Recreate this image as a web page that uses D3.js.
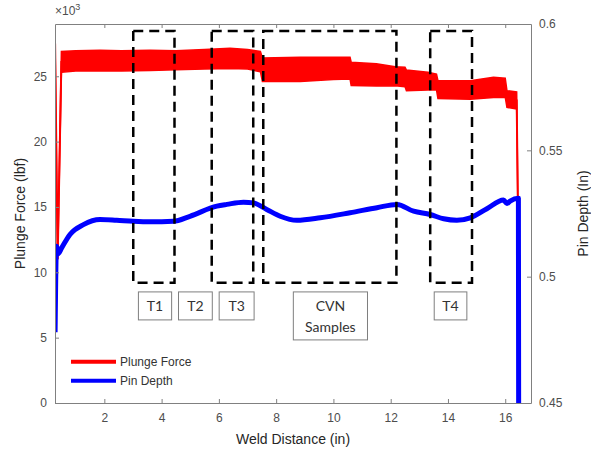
<!DOCTYPE html>
<html>
<head>
<meta charset="utf-8">
<title>Plunge force and pin depth</title>
<script src="https://cdn.jsdelivr.net/npm/d3@7"></script>
<style>
    body { margin: 0; background: #fff; }
    svg text { font-family: "Liberation Sans", Arial, sans-serif; }
    .tick text { fill: #4d4d4d; font-size: 12px; }
    .tick line { stroke: #808080; }
    .domain { stroke: #808080; }
    .title { fill: #262626; font-size: 14px; }
    .lbl { font-family: Lato, "Open Sans", sans-serif; font-size: 14px; fill: #333; }
</style>
</head>
<body>
<div id="chart"></div>
<script>
// weld distance (in) and plunge force band (x10^3 lbf)
var forceX  = [0.28, 0.37, 0.50, 1.00, 1.85, 2.60, 3.60, 4.50, 5.50, 6.39, 7.00, 7.45, 7.52, 8.84, 10.00, 10.58, 10.62, 11.50, 12.16, 12.50, 12.55, 13.30, 13.60, 13.65, 14.78, 15.59, 16.00, 16.06, 16.40, 16.44];
var forceHi = [27.5, 11.0, 26.9, 26.95, 27.0, 26.95, 27.0, 26.95, 27.05, 27.15, 27.05, 26.9, 26.4, 26.45, 26.45, 26.45, 26.07, 25.95, 25.73, 25.7, 25.48, 25.3, 25.17, 24.66, 24.66, 24.92, 24.85, 23.9, 23.8, 15.5];
var forceLo = [27.5, 11.0, 25.3, 25.4, 25.4, 25.4, 25.45, 25.5, 25.55, 25.6, 25.55, 25.35, 24.6, 24.6, 24.75, 24.8, 24.3, 24.25, 24.27, 24.2, 23.9, 23.95, 23.95, 23.3, 23.25, 23.38, 23.4, 22.62, 22.5, 15.5];

// pin depth (in)
var depthX   = [0.28, 0.33, 0.38, 0.51, 0.80, 1.27, 1.85, 2.43, 3.01, 3.60, 4.41, 4.99, 5.93, 6.28, 6.86, 7.21, 7.67, 8.14, 8.72, 9.54, 10.58, 11.52, 12.22, 12.80, 13.38, 13.85, 14.31, 14.78, 15.36, 15.94, 16.06, 16.17, 16.46, 16.47];
var depthVal = [0.478, 0.512, 0.509, 0.5114, 0.5167, 0.5206, 0.5226, 0.5223, 0.5219, 0.5217, 0.5219, 0.5239, 0.5279, 0.5286, 0.5295, 0.5292, 0.5266, 0.5239, 0.5223, 0.5233, 0.5253, 0.5273, 0.5286, 0.5259, 0.5246, 0.5229, 0.5223, 0.5233, 0.5269, 0.5303, 0.5290, 0.5299, 0.5310, 0.44];

var xTicks = [2, 4, 6, 8, 10, 12, 14, 16];
var forceTicks = [0, 5, 10, 15, 20, 25];
var depthTicks = [0.45, 0.5, 0.55, 0.6];

// dashed sample regions (in) and their labels
var regionStart = [3.01, 5.75, 7.55, 13.38];
var regionEnd   = [4.45, 7.20, 12.20, 14.84];
var labelNames  = [["T1"], ["T2"], ["T3"], ["CVN", "Samples"], ["T4"]];
var labelStart  = [3.19, 4.59, 6.01, 8.60, 13.52];
var labelEnd    = [4.35, 5.77, 7.23, 11.19, 14.66];

var W = 591, H = 451,
    margin = { top: 24, right: 60, bottom: 48, left: 55 },
    w = W - margin.left - margin.right,
    h = H - margin.top - margin.bottom;

var svg = d3.select('#chart').append('svg')
    .attr('width', W)
    .attr('height', H);

var g = svg.append('g')
    .attr('transform', 'translate(' + margin.left + ',' + margin.top + ')');

var x = d3.scaleLinear().domain([0.277, 16.9]).range([0, w]);
var yL = d3.scaleLinear().domain([0, 29]).range([h, 0]);
var yR = d3.scaleLinear().domain([0.45, 0.6]).range([h, 0]);

g.append('clipPath').attr('id', 'clip')
    .append('rect').attr('width', w).attr('height', h);

var plot = g.append('g').attr('clip-path', 'url(#clip)');

// plunge force: noisy band as an area plus centre line for the spikes
var forceData = forceX.map(function(d, i) { return { x: d, hi: forceHi[i], lo: forceLo[i] }; });
plot.append('path')
    .datum(forceData)
    .attr('fill', '#ff0000')
    .attr('stroke', '#ff0000')
    .attr('stroke-width', 1.5)
    .attr('d', d3.area()
        .x(function(d) { return x(d.x); })
        .y0(function(d) { return yL(d.lo); })
        .y1(function(d) { return yL(d.hi); }));
plot.append('path')
    .datum(forceData)
    .attr('fill', 'none')
    .attr('stroke', '#ff0000')
    .attr('stroke-width', 2)
    .attr('d', d3.line()
        .x(function(d) { return x(d.x); })
        .y(function(d) { return yL((d.hi + d.lo) / 2); }));

// pin depth
var depthData = depthX.map(function(d, i) { return { x: d, v: depthVal[i] }; });
plot.append('path')
    .datum(depthData)
    .attr('fill', 'none')
    .attr('stroke', '#0000ff')
    .attr('stroke-width', 5)
    .attr('stroke-linejoin', 'round')
    .attr('d', d3.line()
        .curve(d3.curveMonotoneX)
        .x(function(d) { return x(d.x); })
        .y(function(d) { return yR(d.v); }));

// dashed boxes
g.selectAll('.region')
    .data(regionStart)
    .enter().append('rect')
    .attr('class', 'region')
    .attr('x', function(d) { return x(d); })
    .attr('y', yL(28.47))
    .attr('width', function(d, i) { return x(regionEnd[i]) - x(d); })
    .attr('height', yL(9.2) - yL(28.47))
    .attr('fill', 'none')
    .attr('stroke', '#000')
    .attr('stroke-width', 2.5)
    .attr('stroke-dasharray', '10,6');

// label boxes
var labels = g.selectAll('.lblbox')
    .data(labelNames)
    .enter().append('g')
    .attr('class', 'lblbox');
labels.append('rect')
    .attr('x', function(d, i) { return x(labelStart[i]); })
    .attr('y', yL(8.5))
    .attr('width', function(d, i) { return x(labelEnd[i]) - x(labelStart[i]); })
    .attr('height', function(d) { return d.length > 1 ? 48 : 28; })
    .attr('fill', '#fff')
    .attr('stroke', '#7f7f7f')
    .attr('stroke-width', 1);
labels.each(function(d, i) {
    var cx = (x(labelStart[i]) + x(labelEnd[i])) / 2;
    d3.select(this).selectAll('text')
        .data(d)
        .enter().append('text')
        .attr('class', 'lbl')
        .attr('x', cx)
        .attr('y', function(t, j) { return yL(8.5) + 19 + j * 21; })
        .attr('text-anchor', 'middle')
        .text(function(t) { return t; });
});

// axes (ticks inward, like matlab)
g.append('g')
    .attr('transform', 'translate(0,' + h + ')')
    .call(d3.axisBottom(x).tickValues(xTicks).tickSize(-4).tickPadding(10).tickSizeOuter(0));
g.append('g')
    .call(d3.axisTop(x).tickValues(xTicks).tickSize(-4).tickFormat('').tickSizeOuter(0));
g.append('g')
    .call(d3.axisLeft(yL).tickValues(forceTicks).tickSize(-4).tickPadding(8).tickSizeOuter(0));
g.append('g')
    .attr('transform', 'translate(' + w + ',0)')
    .call(d3.axisRight(yR).tickValues(depthTicks).tickSize(-4).tickPadding(8).tickSizeOuter(0)
        .tickFormat(function(d) { return d3.format('~g')(d); }));

// exponent label
var ex = g.append('text')
    .attr('x', 0).attr('y', -9)
    .attr('fill', '#4d4d4d')
    .style('font-size', '12px');
ex.append('tspan').text('\u00d710');
ex.append('tspan').attr('dy', -5).style('font-size', '9px').text('3');

// axis titles
svg.append('text').attr('class', 'title')
    .attr('x', margin.left + w / 2).attr('y', 444)
    .attr('text-anchor', 'middle')
    .text('Weld Distance (in)');
svg.append('text').attr('class', 'title')
    .attr('transform', 'translate(25,' + (margin.top + h / 2) + ') rotate(-90)')
    .attr('text-anchor', 'middle')
    .text('Plunge Force (lbf)');
svg.append('text').attr('class', 'title')
    .attr('transform', 'translate(588,' + (margin.top + h / 2) + ') rotate(-90)')
    .attr('text-anchor', 'middle')
    .text('Pin Depth (In)');

// legend
var legend = g.append('g').attr('transform', 'translate(16,' + (361.7 - margin.top) + ')');
var legendItems = [['Plunge Force', '#ff0000'], ['Pin Depth', '#0000ff']];
legendItems.forEach(function(d, i) {
    legend.append('line')
        .attr('x1', 0).attr('x2', 45)
        .attr('y1', i * 19).attr('y2', i * 19)
        .attr('stroke', d[1]).attr('stroke-width', 4);
    legend.append('text')
        .attr('x', 49).attr('y', i * 19 + 4)
        .attr('fill', '#333')
        .style('font-size', '12px')
        .text(d[0]);
});
</script>
</body>
</html>
